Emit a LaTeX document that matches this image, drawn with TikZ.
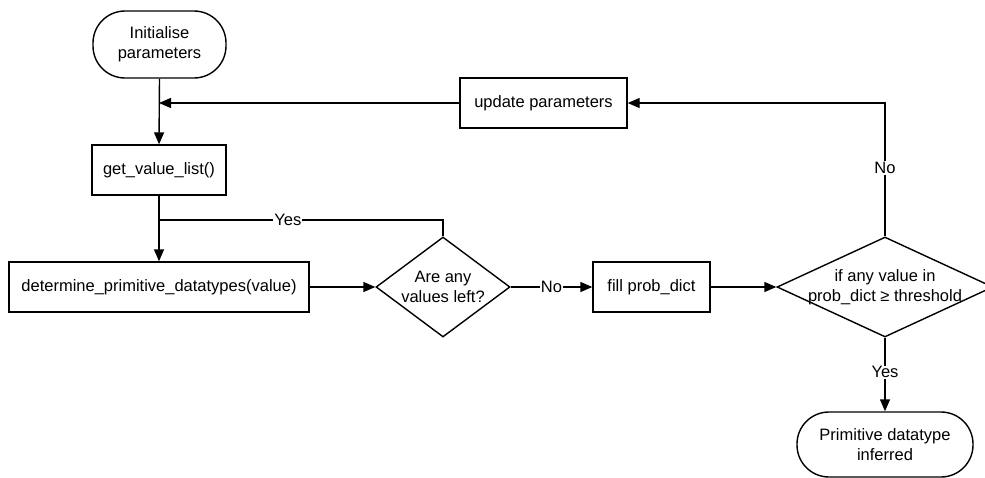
\documentclass[tikz,border=0pt]{standalone}
\usepackage{fontspec}
\setmainfont{Liberation Sans}
\usetikzlibrary{arrows.meta,shapes.geometric}
\begin{document}
\begin{tikzpicture}[x=1pt,y=-1pt,
  every node/.style={font=\fontsize{16.5}{20}\selectfont, align=center},
  line/.style={line width=1.4pt},
  arr/.style={line, -{Triangle[length=12pt,width=10pt]}},
  proc/.style={draw, line width=1.4pt, minimum height=50pt, inner sep=0pt},
  term/.style={draw, line width=1.4pt, rounded corners=32pt, inner sep=0pt},
  lab/.style={fill=white, inner sep=1pt}]
\useasboundingbox (0,0) rectangle (985,477);
\fill[white] (0,0) rectangle (985,477);
\node[term, minimum width=133pt, minimum height=67pt] (init) at (159.5,44.5) {Initialise\\parameters};
\node[proc, minimum width=134pt] (gvl) at (159,170) {get\_value\_list()};
\node[proc, minimum width=167pt] (upd) at (543.5,103) {update parameters};
\node[proc, minimum width=300pt] (det) at (159,287) {determine\_primitive\_datatypes(value)};
\node[draw, line width=1.4pt, diamond, minimum width=134pt, minimum height=100pt, inner sep=0pt] (left) at (443,287) {};
\node at (left) {Are any\\values left?};
\node[proc, minimum width=117pt] (fill) at (651.5,287) {fill prob\_dict};
\node[draw, line width=1.4pt, diamond, minimum width=216pt, minimum height=100pt, inner sep=0pt] (thr) at (885,287) {};
\node at (thr) {if any value in\\prob\_dict ≥ threshold};
\node[term, minimum width=176pt, minimum height=65pt] (inf) at (885,444.5) {Primitive datatype\\inferred};
\coordinate (j1) at (159,103);
\coordinate (j2) at (159,220);
\draw[arr] (init.south) -- (gvl.north);
\draw[arr] (upd.west) -- (j1);
\draw[arr] (gvl.south) -- (det.north);
\draw[line] (left.north) |- (j2) node[lab, pos=0.773] {Yes};
\draw[arr] (det.east) -- (left.west);
\draw[arr] (left.east) -- node[lab, pos=0.5] {No} (fill.west);
\draw[arr] (fill.east) -- (thr.west);
\draw[arr] (thr.north) |- node[lab, pos=0.257] {No} (upd.east);
\draw[arr] (thr.south) -- node[lab, pos=0.47] {Yes} (inf.north);
\end{tikzpicture}
\end{document}
